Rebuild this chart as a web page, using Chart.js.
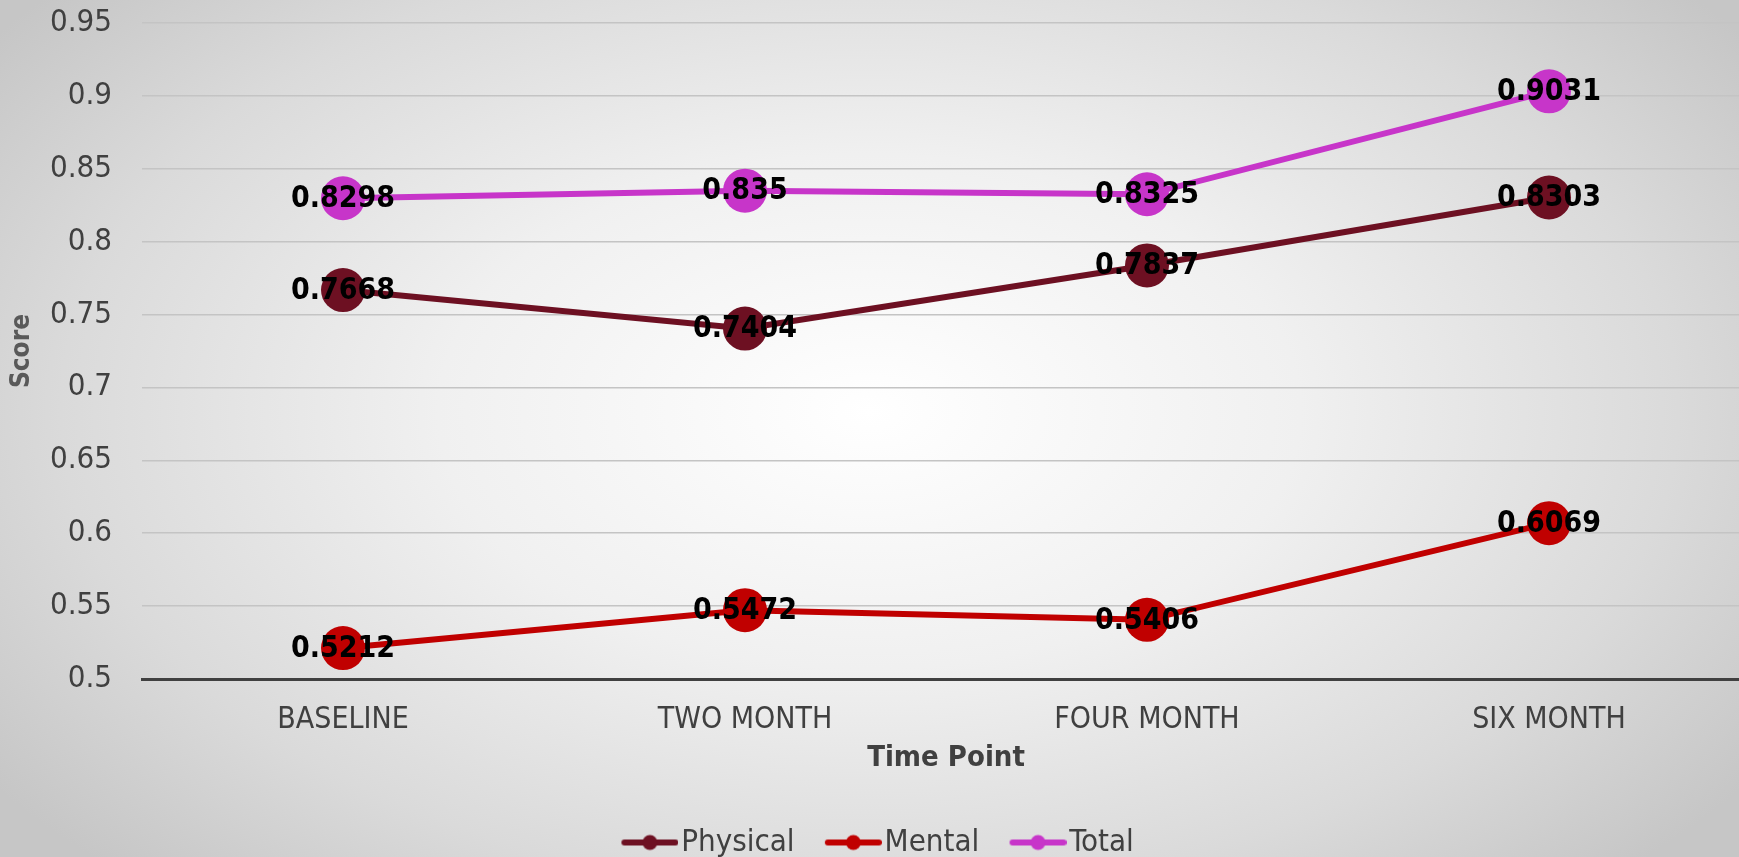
<!DOCTYPE html>
<html>
<head>
<meta charset="utf-8">
<title>Score by Time Point</title>
<script src="https://cdn.jsdelivr.net/npm/chart.js@4.4.1/dist/chart.umd.min.js"></script>
<style>
    html, body {
        margin: 0;
        padding: 0;
        overflow: hidden;
        width: 1739px;
        height: 857px;
    }
    body {
        background: radial-gradient(ellipse 62% 75% at 50% 48%, #ffffff 0%, #f0f0f0 40%, #dadada 75%, #c6c6c6 100%);
    }
    #wrap {
        width: 1750px;
        height: 857px;
    }
</style>
</head>
<body>
<div id="wrap">
    <canvas id="scoreChart" width="1750" height="857"></canvas>
</div>
<script>
// time points along the x axis
const timePoints = ['BASELINE', 'TWO MONTH', 'FOUR MONTH', 'SIX MONTH'];

// score per time point
const physical = [0.7668, 0.7404, 0.7837, 0.8303];
const mental = [0.5212, 0.5472, 0.5406, 0.6069];
const total = [0.8298, 0.835, 0.8325, 0.9031];

// y axis ticks
const yTickLabels = ['0.5', '0.55', '0.6', '0.65', '0.7', '0.75', '0.8', '0.85', '0.9', '0.95'];

const physicalColor = '#6D1022';
const mentalColor = '#C00000';
const totalColor = '#C735C9';

const textGrey = '#404040';
const labelFont = '"DejaVu Sans Condensed", "DejaVu Sans", sans-serif';

// small nudge of the legend row to the right
const legendShift = 5;

// legend marker: short line with a dot in the middle,
// with a little empty room on the left so the line hugs the text
function legendMarker(color) {
    const c = document.createElement('canvas');
    c.width = 65;
    c.height = 18;
    const g = c.getContext('2d');
    g.strokeStyle = color;
    g.lineWidth = 6;
    g.lineCap = 'round';
    g.beginPath();
    g.moveTo(11, 9);
    g.lineTo(62, 9);
    g.stroke();
    g.fillStyle = color;
    g.beginPath();
    g.arc(36.5, 9, 7.5, 0, Math.PI * 2);
    g.fill();
    return c;
}

// writes each value on top of its point
const pointValues = {
    id: 'pointValues',
    afterLayout(chart) {
        if (chart.legend) {
            chart.legend.left += 2 * legendShift;
        }
    },
    afterDatasetsDraw(chart) {
        const ctx = chart.ctx;
        ctx.save();
        ctx.font = 'bold 30px ' + labelFont;
        ctx.fillStyle = '#000000';
        ctx.textAlign = 'center';
        ctx.textBaseline = 'middle';
        chart.data.datasets.forEach((ds, i) => {
            const meta = chart.getDatasetMeta(i);
            meta.data.forEach((pt, j) => {
                ctx.fillText(String(ds.data[j]), pt.x, pt.y + 1);
            });
        });
        ctx.restore();
    }
};

function makeSeries(label, values, color) {
    return {
        label: label,
        data: values,
        borderColor: color,
        backgroundColor: color,
        borderWidth: 6,
        pointRadius: 22,
        pointHoverRadius: 22,
        pointBorderWidth: 0,
        pointBackgroundColor: color,
        tension: 0
    };
}

const ctx = document.getElementById('scoreChart').getContext('2d');
const scoreChart = new Chart(ctx, {
    type: 'line',
    data: {
        labels: timePoints,
        datasets: [
            makeSeries('Physical', physical, physicalColor),
            makeSeries('Mental', mental, mentalColor),
            makeSeries('Total', total, totalColor)
        ]
    },
    options: {
        responsive: false,
        animation: false,
        layout: {
            autoPadding: false,
            padding: { top: 23, right: 0, bottom: -11, left: 0 }
        },
        scales: {
            x: {
                offset: true,
                afterFit(scale) {
                    scale.paddingLeft = 0;
                    scale.paddingRight = 0;
                },
                grid: { display: false },
                border: { display: true, color: '#404040', width: 3 },
                ticks: {
                    color: textGrey,
                    font: { family: labelFont, size: 30 },
                    padding: 15
                },
                title: {
                    display: true,
                    text: 'Time Point',
                    color: textGrey,
                    font: { family: labelFont, size: 29, weight: 'bold' },
                    padding: { top: -12.4, bottom: 16.6 }
                }
            },
            y: {
                min: 0.5,
                max: 0.95,
                afterBuildTicks(scale) {
                    scale.ticks = yTickLabels.map(t => ({ value: parseFloat(t) }));
                },
                afterFit(scale) {
                    scale.width = 142;
                    scale.paddingTop = 0;
                    scale.paddingBottom = 0;
                },
                grid: {
                    color: '#c4c4c4',
                    lineWidth: 1.5,
                    drawTicks: false
                },
                border: { display: false },
                ticks: {
                    color: textGrey,
                    font: { family: labelFont, size: 31 },
                    padding: 30,
                    callback: (value, index) => yTickLabels[index]
                },
                title: {
                    display: true,
                    text: 'Score',
                    color: '#595959',
                    font: { family: labelFont, size: 26, weight: 'bold' },
                    padding: { top: 6.4, bottom: 0 }
                }
            }
        },
        plugins: {
            legend: {
                position: 'bottom',
                labels: {
                    usePointStyle: true,
                    pointStyleWidth: 39.5,
                    color: textGrey,
                    font: { family: labelFont, size: 31 },
                    padding: 35,
                    generateLabels(chart) {
                        return chart.data.datasets.map((ds, i) => ({
                            text: ds.label,
                            fillStyle: ds.borderColor,
                            strokeStyle: ds.borderColor,
                            lineWidth: 0,
                            pointStyle: legendMarker(ds.borderColor),
                            fontColor: textGrey,
                            hidden: false,
                            datasetIndex: i
                        }));
                    }
                }
            },
            tooltip: { enabled: false }
        }
    },
    plugins: [pointValues]
});
</script>
</body>
</html>
